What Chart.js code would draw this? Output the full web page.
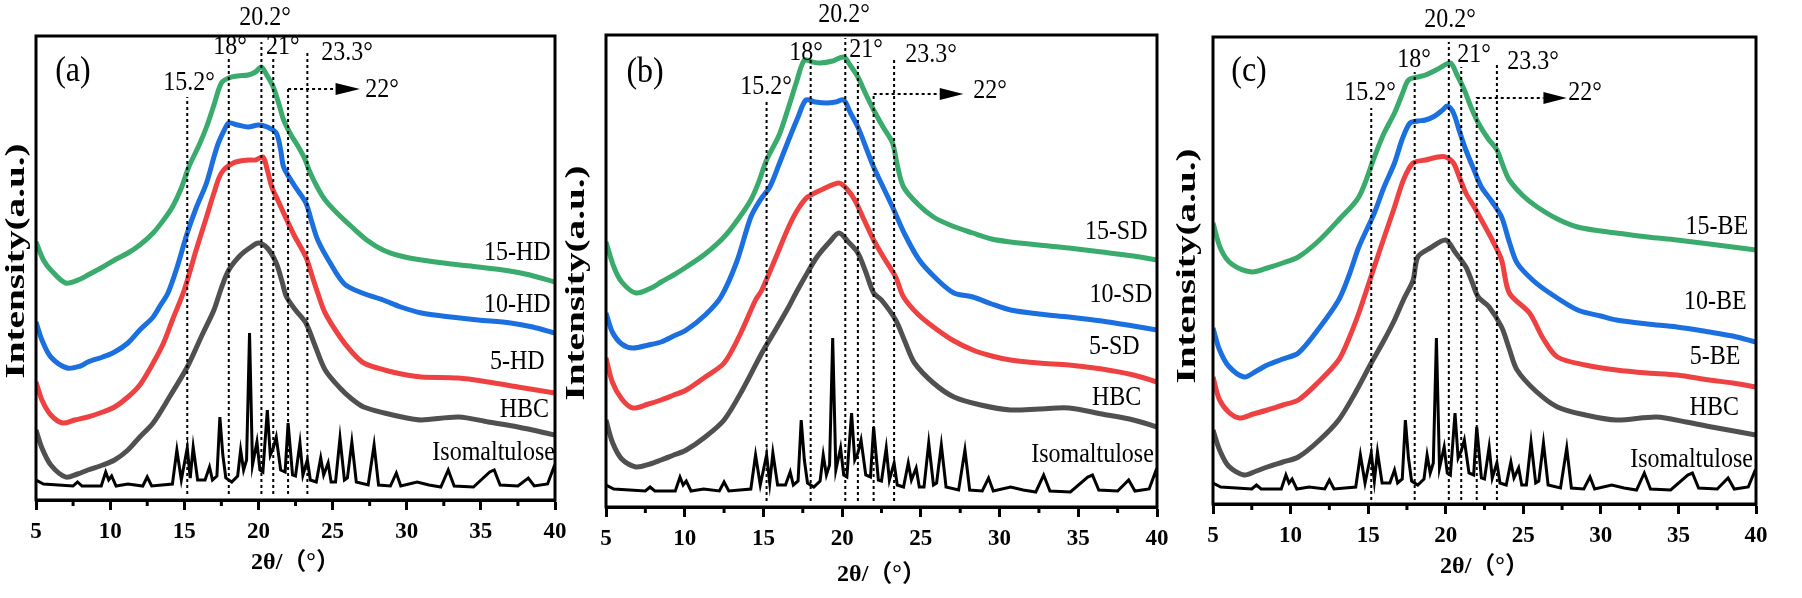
<!DOCTYPE html>
<html>
<head>
<meta charset="utf-8">
<script src="https://cdn.jsdelivr.net/npm/chart.js@4.4.1/dist/chart.umd.min.js"></script>
<style>
    html, body { margin: 0; background: #fff; }
    #wrap { position: relative; width: 1802px; height: 598px; overflow: hidden; }
    canvas { position: absolute; top: 0; }
</style>
</head>
<body>
<div id="wrap">
    <canvas id="panelA" width="590" height="598" style="left:0"></canvas>
    <canvas id="panelB" width="630" height="598" style="left:550px"></canvas>
    <canvas id="panelC" width="652" height="598" style="left:1150px"></canvas>
</div>
<script>
// 2θ (deg) vs intensity (a.u.)
const hd15 = [[5,258],[5.5,240],[6,230],[7,217],[8,221],[8.5,225],[9.5,233],[10.3,240],[11.2,247],[12,255],[12.9,267],[13.6,280],[14.2,293],[14.8,312],[15.3,333],[16,355],[16.5,373],[17,395],[17.5,417],[18,422],[18.6,424],[19.3,425],[19.8,428],[20.2,433],[20.6,424],[21,413],[21.4,395],[21.7,380],[22.2,365],[22.7,353],[23.1,342],[23.5,327],[24,312],[24.5,300],[25.3,287],[26.3,273],[27.3,260],[28.4,250],[29.6,244],[31,240],[33,236],[34.8,233],[36.5,230],[38,226],[40,218]];
const hd10 = [[5,178],[5.4,160],[6,143],[7.1,132],[8,134],[8.5,138],[9.5,143],[10.3,148],[11.2,157],[12,170],[12.9,183],[13.4,195],[13.9,207],[14.5,232],[15.2,267],[15.8,292],[16.5,317],[17,343],[17.3,357],[17.7,370],[18,377],[18.6,375],[19.3,373],[20,375],[20.6,373],[21.2,367],[21.5,350],[21.7,333],[22.4,315],[23.2,297],[23.6,278],[24,260],[24.8,238],[25.8,216],[27,207],[28.4,200],[29.6,193],[31,187],[33,183],[34.8,180],[37,177],[38.5,173],[40,167]];
const hd5 = [[5,118],[5.4,100],[6,85],[6.8,77],[7.6,80],[8.5,83],[9.5,88],[10.3,93],[11.2,103],[12,115],[12.9,137],[13.6,157],[14.2,180],[15,210],[15.8,250],[16.5,283],[17,307],[17.5,327],[18.3,337],[19.3,340],[19.8,340],[20.3,343],[20.6,330],[20.9,313],[21.3,300],[21.7,287],[22.4,265],[23.2,243],[23.6,225],[24,207],[24.5,187],[25.5,163],[26.3,148],[27.1,137],[28.5,130],[30,125],[31,123],[33.5,122],[35.5,118],[37.5,113],[40,107]];
const hbcA = [[5,70],[5.4,52],[6,35],[7,23],[7.8,26],[8.5,30],[9.5,35],[10.3,40],[11.2,50],[12,63],[12.9,77],[14,103],[15.2,133],[16.2,165],[17,190],[17.5,212],[18,230],[18.8,245],[19.5,253],[20,257],[20.6,252],[21.2,237],[21.6,218],[21.9,203],[22.5,190],[23.2,177],[23.8,155],[24.5,130],[25.5,112],[26.3,101],[27.1,93],[28.5,87],[30,82],[31,80],[33.5,83],[35.5,78],[37.5,73],[40,65]];
const isoA = [[5,20],[5.5,16],[6.5,15],[7.5,14],[7.8,18],[8.1,14],[9.4,14],[9.7,28],[9.9,20],[10.1,24],[10.4,14],[11.2,16],[12.2,14],[12.5,23],[12.8,14],[14.2,16],[14.5,50],[14.8,20],[15.2,52],[15.4,22],[15.6,53],[15.9,20],[16.4,20],[16.7,33],[16.9,20],[17.2,24],[17.4,83],[17.6,45],[17.8,22],[18.2,18],[18.6,24],[18.8,50],[19,30],[19.2,40],[19.4,167],[19.6,35],[19.9,58],[20.1,30],[20.3,28],[20.6,90],[20.8,45],[21,52],[21.2,63],[21.5,30],[21.8,28],[22,77],[22.3,25],[22.5,24],[22.8,57],[23,25],[23.3,40],[23.5,20],[23.9,18],[24.2,42],[24.4,25],[24.7,37],[24.9,18],[25.2,18],[25.5,62],[25.8,20],[26,22],[26.3,58],[26.6,18],[27.4,15],[27.8,55],[28.1,15],[28.9,14],[29.3,27],[29.6,14],[30.7,18],[31.5,15],[32.3,13],[32.8,30],[33.2,14],[34.5,13],[35.6,28],[35.9,30],[36.3,15],[37.5,14],[38.2,22],[38.6,14],[39.5,16],[39.9,32],[40,28]];

const sd15 = [[5,265],[5.5,240],[6,225],[6.9,214],[8,220],[8.5,225],[9.3,232],[10.1,240],[11.3,253],[12.5,270],[13.4,288],[14.2,307],[14.7,325],[15.2,347],[16,372],[16.6,400],[17.1,425],[17.6,447],[18.1,445],[18.6,444],[19.4,446],[20.1,450],[20.5,442],[21,430],[21.5,413],[22,397],[22.6,380],[23.2,364],[23.5,342],[23.9,320],[24.8,303],[25.8,290],[27,281],[28.3,274],[29.5,268],[30.7,265],[32.5,262],[34.4,259],[36.5,255],[38.5,251],[40,247]];
const sd10 = [[5,194],[5.4,175],[6,163],[6.7,159],[7.7,162],[8.5,165],[9.3,171],[10.1,177],[11.3,192],[12.3,210],[13.3,245],[14.2,290],[14.8,307],[15.4,320],[16,343],[16.6,367],[17.2,390],[17.7,407],[18.3,405],[19,404],[19.6,405],[20.1,407],[20.5,395],[21,380],[21.5,360],[22,340],[22.6,320],[23.2,300],[24,272],[24.9,247],[26,228],[27.1,214],[28.3,210],[29.5,203],[30.7,197],[32.5,193],[34.4,190],[36.5,186],[38.5,181],[40,177]];
const sd5 = [[5,149],[5.4,125],[6,108],[6.7,99],[7.7,103],[8.5,107],[9.3,112],[10.1,117],[11.3,130],[12.5,144],[13.5,172],[14.5,207],[14.9,217],[15.8,250],[16.6,280],[17.2,298],[17.8,310],[18.8,318],[19.8,324],[20.3,318],[20.8,307],[21.4,287],[22,267],[22.7,248],[23.4,230],[23.9,210],[24.8,193],[25.8,180],[27,167],[28.3,157],[29.5,151],[30.7,147],[32.5,144],[34.4,142],[36.5,138],[38.5,132],[40,125]];
const hbcB = [[5,87],[5.4,65],[6,48],[6.9,40],[7.8,43],[8.5,47],[9.3,52],[10.1,57],[11.3,70],[12.5,87],[13.7,118],[14.9,154],[15.8,178],[16.6,200],[17.1,215],[17.6,229],[18.4,250],[19.2,265],[19.8,274],[20.4,265],[21,254],[21.5,235],[22,214],[22.5,207],[23.4,187],[24,165],[24.6,144],[25.8,124],[27.1,110],[28.8,102],[30.7,97],[32.5,98],[34.4,99],[36.5,93],[38.5,87],[40,80]];
const isoB = [[5,22],[5.5,18],[6.5,17],[7.5,16],[7.8,20],[8.1,16],[9.4,16],[9.7,30],[9.9,22],[10.1,26],[10.4,16],[11.2,18],[12.2,16],[12.5,25],[12.8,16],[14.2,18],[14.5,52],[14.8,22],[15.2,52],[15.4,24],[15.6,54],[15.9,22],[16.4,22],[16.7,35],[16.9,22],[17.2,26],[17.4,87],[17.6,47],[17.8,24],[18.2,20],[18.6,26],[18.8,52],[19,32],[19.2,42],[19.4,169],[19.6,37],[19.9,59],[20.1,32],[20.3,30],[20.6,94],[20.8,47],[21,54],[21.2,67],[21.5,32],[21.8,30],[22,80],[22.3,27],[22.5,26],[22.8,59],[23,27],[23.3,44],[23.5,22],[23.9,20],[24.2,44],[24.4,27],[24.7,39],[24.9,20],[25.2,20],[25.5,64],[25.8,22],[26,24],[26.3,62],[26.6,20],[27.4,17],[27.8,57],[28.1,17],[28.9,16],[29.3,29],[29.6,16],[30.7,20],[31.5,17],[32.3,15],[32.8,32],[33.2,16],[34.5,15],[35.6,30],[35.9,32],[36.3,17],[37.5,16],[38.2,27],[38.6,16],[39.5,18],[39.9,35],[40,30]];

const be15 = [[5,281],[5.5,255],[6.2,240],[7.5,232],[8.5,236],[9.5,241],[10.5,247],[11.8,263],[13.1,284],[14.4,307],[15.4,347],[16,370],[16.7,391],[17.2,410],[17.6,424],[18.2,427],[18.7,429],[19.5,435],[20.3,441],[20.7,430],[21.2,414],[21.6,398],[22.1,381],[22.7,366],[23.3,354],[23.7,338],[24.1,324],[25,308],[25.9,297],[27.2,285],[28.5,277],[30,273],[31,271],[33,267],[34.9,264],[37,260],[38.5,257],[40,254]];
const be10 = [[5,176],[5.4,155],[6,138],[7,127],[7.8,133],[8.5,139],[9.5,145],[10.5,151],[11.8,175],[13.1,204],[13.8,230],[14.4,257],[15.4,291],[16,316],[16.7,341],[17.2,365],[17.7,381],[18.2,383],[18.7,384],[19.3,388],[19.8,394],[20.1,398],[20.5,391],[20.9,372],[21.3,354],[21.8,335],[22.3,317],[23,302],[23.6,287],[24.1,262],[24.6,241],[25.6,224],[26.7,211],[28.5,194],[30,188],[31,184],[33,180],[34.9,177],[37,172],[38.5,168],[40,162]];
const be5 = [[5,127],[5.4,105],[6,92],[6.7,86],[7.6,90],[8.5,94],[9.5,99],[10.5,104],[11.8,122],[13.1,144],[13.8,167],[14.4,191],[14.9,214],[15.8,256],[16.7,297],[17.3,325],[17.9,341],[18.7,344],[19.5,347],[20,347],[20.5,341],[20.9,326],[21.3,311],[21.8,298],[22.3,284],[23,264],[23.6,244],[24.1,211],[25.4,191],[26.3,165],[27.2,147],[29,139],[31,134],[33,131],[34.9,129],[37,124],[38.5,121],[40,117]];
const hbcC = [[5,74],[5.4,55],[6,38],[7,29],[7.8,33],[8.5,37],[9.5,42],[10.5,47],[11.8,63],[13.1,84],[14.2,112],[15.2,141],[16,163],[16.7,184],[17.3,205],[17.9,224],[18.2,247],[19,256],[20,264],[20.6,252],[21.3,237],[21.7,222],[22.1,207],[22.8,197],[23.6,177],[24.1,155],[24.6,134],[25.8,113],[27.2,97],[29,89],[31,84],[33.6,87],[35.5,82],[37.5,76],[40,69]];
const isoC = [[5,21],[5.5,17],[6.5,16],[7.5,15],[7.8,19],[8.1,15],[9.4,15],[9.7,29],[9.9,21],[10.1,25],[10.4,15],[11.2,17],[12.2,15],[12.5,24],[12.8,15],[14.2,17],[14.5,49],[14.8,21],[15.2,51],[15.4,23],[15.6,52],[15.9,21],[16.4,21],[16.7,34],[16.9,21],[17.2,25],[17.4,84],[17.6,46],[17.8,23],[18.2,19],[18.6,25],[18.8,49],[19,31],[19.2,41],[19.4,166],[19.6,36],[19.9,57],[20.1,31],[20.3,29],[20.6,91],[20.8,46],[21,53],[21.2,64],[21.5,31],[21.8,29],[22,77],[22.3,26],[22.5,25],[22.8,57],[23,26],[23.3,41],[23.5,21],[23.9,19],[24.2,42],[24.4,26],[24.7,36],[24.9,19],[25.2,19],[25.5,62],[25.8,21],[26,23],[26.3,61],[26.6,19],[27.4,16],[27.8,56],[28.1,16],[28.9,15],[29.3,27],[29.6,15],[30.7,19],[31.5,16],[32.3,14],[32.8,31],[33.2,15],[34.5,14],[35.6,29],[35.9,31],[36.3,16],[37.5,15],[38.2,26],[38.6,15],[39.5,17],[39.9,32],[40,29]];

// reference lines (deg) and their top ends per panel
const markDeg = [15.2, 18, 20.2, 21, 22, 23.3];
const markTopA = [403, 442, 458, 442, 411, 447];
const markTopB = [407, 447, 469, 445, 413, 450];
const markTopC = [396, 432, 462, 437, 407, 442];
const xTicks = [5, 10, 15, 20, 25, 30, 35, 40];
const minorTicks = [7.5, 12.5, 17.5, 22.5, 27.5, 32.5, 37.5];

const SERIF = '"Liberation Serif", "Times New Roman", "Noto Sans CJK SC", serif';
const COLORS = { green: "#3aaa6d", blue: "#1b6fde", red: "#ee4242", gray: "#505050", black: "#000000" };
const SY = 1.12;

const xy = (arr) => arr.map(([x, y]) => ({ x, y }));

const stretchText = (ctx, text, x, y, font, align) => {
    ctx.save();
    ctx.translate(x, y);
    ctx.scale(1, SY);
    ctx.font = font;
    ctx.textAlign = align;
    ctx.textBaseline = "middle";
    ctx.fillText(text, 0, 0);
    ctx.restore();
};

const decor = (p) => ({
    id: "decor",
    afterDraw(chart) {
        const { ctx, chartArea: a, scales: { x, y } } = chart;
        ctx.save();
        ctx.strokeStyle = "#000";
        ctx.fillStyle = "#000";
        ctx.lineWidth = 3;
        ctx.strokeRect(a.left, a.top, a.right - a.left, a.bottom - a.top);
        minorTicks.forEach((v) => {
            const px = x.getPixelForValue(v);
            ctx.beginPath();
            ctx.moveTo(px, a.bottom);
            ctx.lineTo(px, a.bottom + 6);
            ctx.stroke();
        });

        // arrow head for the 22° pointer
        const [tip, head, level] = p.arrow;
        const tx = x.getPixelForValue(tip), bx = x.getPixelForValue(tip - head), ay = y.getPixelForValue(level);
        ctx.beginPath();
        ctx.moveTo(tx, ay);
        ctx.lineTo(bx, ay - 6);
        ctx.lineTo(bx, ay + 6);
        ctx.closePath();
        ctx.fill();

        p.markText.forEach(([t, dx, dy]) => stretchText(ctx, t, x.getPixelForValue(dx), y.getPixelForValue(dy), `24px ${SERIF}`, "center"));
        p.names.forEach(([t, dx, dy]) => stretchText(ctx, t, x.getPixelForValue(dx), y.getPixelForValue(dy), `24px ${SERIF}`, "right"));
        stretchText(ctx, p.tag, x.getPixelForValue(p.tagPos[0]), y.getPixelForValue(p.tagPos[1]), `32px ${SERIF}`, "center");

        ctx.translate(p.yTitle[0], p.yTitle[1]);
        ctx.rotate(-Math.PI / 2);
        ctx.scale(1.4, 1);
        ctx.font = `bold 28px ${SERIF}`;
        ctx.textAlign = "center";
        ctx.textBaseline = "middle";
        ctx.fillText("Intensity(a.u.)", 0, 0);
        ctx.restore();
    },
});

const makePanel = (id, p) => {
    const curve = (data, color, order, width) => ({
        data: xy(data), borderColor: color, borderWidth: width, pointRadius: 0,
        tension: width > 3.5 ? 0.3 : 0, order, fill: false,
    });
    const marks = markDeg.map((d, i) => ({
        data: [{ x: d, y: p.markBottom }, { x: d, y: p.markTop[i] }],
        borderColor: "#000", borderWidth: 2, borderDash: [3, 3], pointRadius: 0, order: 0,
    }));
    const arrowLine = {
        data: [{ x: 22, y: p.arrow[2] }, { x: p.arrow[0] - p.arrow[1], y: p.arrow[2] }],
        borderColor: "#000", borderWidth: 2, borderDash: [3, 3], pointRadius: 0, order: 0,
    };

    new Chart(document.getElementById(id), {
        type: "line",
        data: {
            datasets: [
                curve(p.series[0], COLORS.green, 5, 5),
                curve(p.series[1], COLORS.blue, 4, 5),
                curve(p.series[2], COLORS.red, 3, 5),
                curve(p.series[3], COLORS.gray, 2, 5),
                curve(p.series[4], COLORS.black, 1, 3),
                ...marks,
                arrowLine,
            ],
        },
        options: {
            responsive: false,
            animation: false,
            layout: { padding: p.pad },
            plugins: { legend: { display: false }, tooltip: { enabled: false } },
            scales: {
                x: {
                    type: "linear", min: 5, max: 40,
                    afterBuildTicks: (scale) => { scale.ticks = xTicks.map((v) => ({ value: v })); },
                    afterFit: (scale) => { scale.height = p.axisH; },
                    ticks: { color: "#000", padding: 8, maxRotation: 0, font: { family: SERIF, size: 23, weight: "bold" } },
                    grid: { drawOnChartArea: false, tickLength: 10, tickWidth: 3, tickColor: "#000" },
                    border: { color: "#000", width: 3 },
                    title: { display: true, text: "2θ/（°）", color: "#000", padding: { top: 0, bottom: 3 }, font: { family: SERIF, size: 24, weight: "bold" } },
                },
                y: { display: false, min: 0, max: p.ymax },
            },
        },
        plugins: [decor(p)],
    });
};

makePanel("panelA", {
    tag: "(a)", tagPos: [7.49, 428],
    series: [hd15, hd10, hd5, hbcA, isoA],
    pad: { left: 36, right: 35, top: 36, bottom: 18 }, axisH: 80, ymax: 464,
    markTop: markTopA, markBottom: 6, arrow: [26.85, 1.65, 411],
    markText: [["15.2°", 15.32, 417], ["18°", 18.08, 453], ["20.2°", 20.44, 482], ["21°", 21.65, 453], ["22°", 28.33, 410], ["23.3°", 25.97, 447]],
    names: [["15-HD", 39.7, 247], ["10-HD", 39.7, 195], ["5-HD", 39.3, 138], ["HBC", 39.6, 90], ["Isomaltulose", 40, 47]],
    yTitle: [17, 261],
});

makePanel("panelB", {
    tag: "(b)", tagPos: [7.48, 434],
    series: [sd15, sd10, sd5, hbcB, isoB],
    pad: { left: 56, right: 23, top: 35, bottom: 6 }, axisH: 85, ymax: 472,
    markTop: markTopB, markBottom: 6, arrow: [27.7, 1.5, 413],
    markText: [["15.2°", 15.17, 420], ["18°", 17.7, 454], ["20.2°", 20.12, 492], ["21°", 21.52, 457], ["22°", 29.4, 416], ["23.3°", 25.65, 452]],
    names: [["15-SD", 39.4, 275], ["10-SD", 39.7, 212], ["5-SD", 38.9, 160], ["HBC", 39.0, 109], ["Isomaltulose", 39.8, 52]],
    yTitle: [27, 283],
});

makePanel("panelC", {
    tag: "(c)", tagPos: [7.32, 432],
    series: [be15, be10, be5, hbcC, isoC],
    pad: { left: 63, right: 46, top: 37, bottom: 14 }, axisH: 80, ymax: 467,
    markTop: markTopC, markBottom: 4, arrow: [27.8, 1.5, 406],
    markText: [["15.2°", 15.12, 411], ["18°", 17.96, 444], ["20.2°", 20.28, 484], ["21°", 21.83, 449], ["22°", 28.98, 411], ["23.3°", 25.63, 442]],
    names: [["15-BE", 39.5, 277], ["10-BE", 39.4, 202], ["5-BE", 39.0, 147], ["HBC", 38.9, 96], ["Isomaltulose", 39.8, 44]],
    yTitle: [38, 266],
});
</script>
</body>
</html>
